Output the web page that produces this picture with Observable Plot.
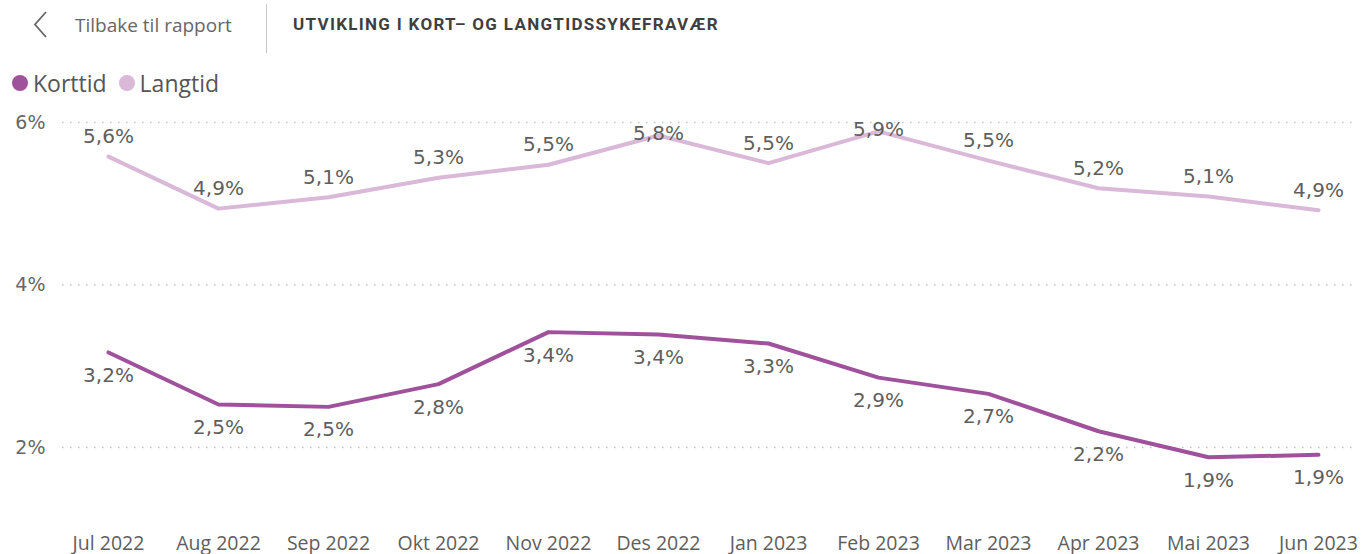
<!DOCTYPE html>
<html>
<head>
<meta charset="utf-8">
<script src="https://cdn.jsdelivr.net/npm/d3@7"></script>
<script src="https://cdn.jsdelivr.net/npm/@observablehq/plot@0.6"></script>
<style>
  html, body { margin: 0; padding: 0; background: #fff; }
  #wrap { position: relative; width: 1361px; height: 554px; overflow: hidden; }
  #top { position: relative; height: 100px; }
  .back { position: absolute; left: 33px; top: 11px; }
  .backtxt { position: absolute; left: 75px; top: 12px; font: 400 19px "Open Sans", sans-serif; color: #666; }
  .divider { position: absolute; left: 266px; top: 4px; width: 1px; height: 49px; background: #c8c8c8; }
  .title { position: absolute; left: 293px; top: 14px; font: 700 17px Roboto, sans-serif; letter-spacing: 1.3px; color: #3f3f3f; }
  #legend { position: absolute; left: 12px; top: 67px; display: flex; align-items: center; font: 400 23px "Open Sans", sans-serif; color: #555; }
  #legend .item { display: flex; align-items: center; margin-right: 12px; }
  #legend .dot { width: 16px; height: 16px; border-radius: 50%; margin-right: 5px; }
  svg { display: block; }
</style>
</head>
<body>
<div id="wrap">
  <div id="top">
    <svg class="back" width="16" height="28" viewBox="0 0 16 28"><polyline points="13,1 2,13.5 13,26" fill="none" stroke="#666" stroke-width="1.8"/></svg>
    <div class="backtxt">Tilbake til rapport</div>
    <div class="divider"></div>
    <div class="title">UTVIKLING I KORT– OG LANGTIDSSYKEFRAVÆR</div>
    <div id="legend"></div>
  </div>
  <div id="chart"></div>
</div>
<script>
const months = ["Jul 2022","Aug 2022","Sep 2022","Okt 2022","Nov 2022","Des 2022","Jan 2023","Feb 2023","Mar 2023","Apr 2023","Mai 2023","Jun 2023"];
const korttid = [3.17, 2.53, 2.50, 2.78, 3.42, 3.39, 3.28, 2.86, 2.66, 2.20, 1.88, 1.91];
const langtid = [5.58, 4.94, 5.08, 5.32, 5.48, 5.84, 5.50, 5.89, 5.53, 5.19, 5.09, 4.92];
const seriesNames = ["Korttid", "Langtid"];
const seriesColors = ["#A0519C", "#D9B8D8"];
const yTicks = [2, 4, 6];

const rows = [];
months.forEach((m, i) => {
  rows.push({month: m, serie: "Korttid", value: korttid[i]});
  rows.push({month: m, serie: "Langtid", value: langtid[i]});
});
const fmt = v => v.toFixed(1).replace(".", ",") + "%";

// legend
const leg = document.getElementById("legend");
seriesNames.forEach((s, i) => {
  const it = document.createElement("div");
  it.className = "item";
  it.innerHTML = `<span class="dot" style="background:${seriesColors[i]}"></span><span>${s}</span>`;
  leg.appendChild(it);
});

const labelFont = {fontFamily: "DejaVu Sans, sans-serif", fontSize: 20, fill: "#605E5C"};

const chart = Plot.plot({
  width: 1361,
  height: 454,
  marginLeft: 106,
  marginRight: 41,
  marginTop: 22,
  marginBottom: 42,
  x: {type: "point", domain: months, padding: 0},
  y: {domain: [1.2, 6]},
  color: {domain: seriesNames, range: seriesColors},
  marks: [
    Plot.ruleY(yTicks, {stroke: "#c4c4c4", strokeWidth: 1.5, strokeDasharray: "1.5,6.5", insetLeft: -44, insetRight: -32}),
    Plot.axisY({ticks: yTicks, tickSize: 0, tickPadding: 61, tickFormat: d => d + "%", label: null,
      fontFamily: "DejaVu Sans, sans-serif", fontSize: 19, fill: "#666"}),
    Plot.axisX({tickSize: 0, tickPadding: 24, label: null,
      fontFamily: "Open Sans, sans-serif", fontSize: 19.5, fill: "#605E5C", style: {letterSpacing: "0.3px"}}),
    Plot.line(rows, {x: "month", y: "value", z: "serie", stroke: "serie", strokeWidth: 4, strokeLinejoin: "round", strokeLinecap: "round"}),
    Plot.text(rows.filter(d => d.serie === "Korttid"), {x: "month", y: "value", text: d => fmt(d.value), dy: 23, ...labelFont}),
    Plot.text(rows.filter(d => d.serie === "Langtid" && d.value < 5.7), {x: "month", y: "value", text: d => fmt(d.value), dy: -20, ...labelFont}),
    Plot.text(rows.filter(d => d.serie === "Langtid" && d.value >= 5.7), {x: "month", y: "value", text: d => fmt(d.value), dy: -2, ...labelFont})
  ]
});
document.getElementById("chart").appendChild(chart);
</script>
</body>
</html>
